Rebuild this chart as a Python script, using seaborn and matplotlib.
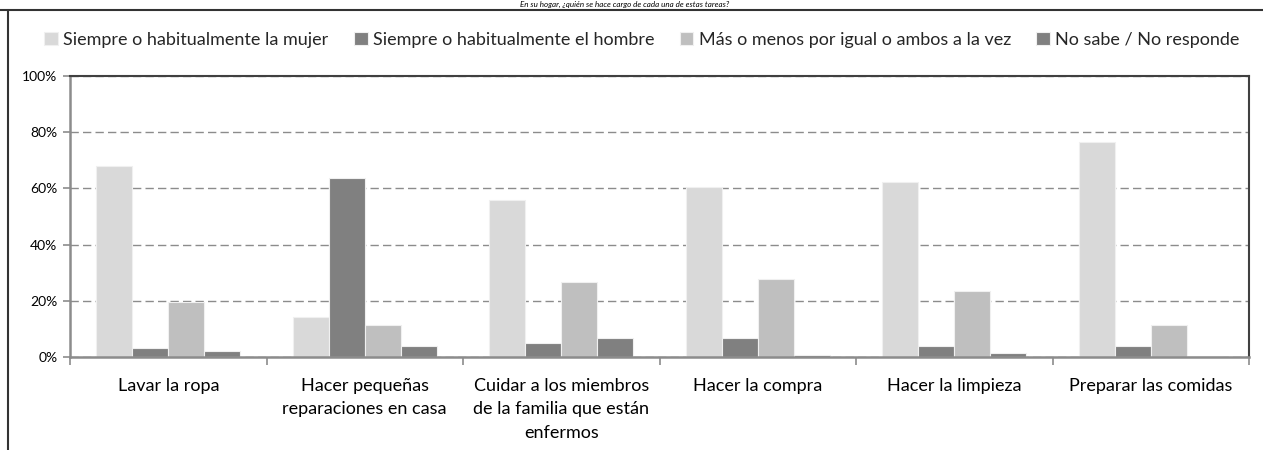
import matplotlib
matplotlib.use("Agg")
import matplotlib.pyplot as plt
from matplotlib.lines import Line2D
from matplotlib.ticker import PercentFormatter, FixedLocator
import seaborn as sns
import pandas as pd

# ---- data ----
tareas = ["Lavar la ropa", "Hacer pequeñas reparaciones en casa",
          "Cuidar a los miembros de la familia que están enfermos",
          "Hacer la compra", "Hacer la limpieza", "Preparar las comidas"]
etiquetas = ["Lavar la ropa", "Hacer pequeñas\nreparaciones en casa",
             "Cuidar a los miembros\nde la familia que están\nenfermos",
             "Hacer la compra", "Hacer la limpieza", "Preparar las comidas"]
series = ["Siempre o habitualmente la mujer", "Siempre o habitualmente el hombre",
          "Más o menos por igual o ambos a la vez", "No sabe / No responde"]
mujer = [68.0, 14.1, 55.8, 60.4, 62.4, 76.4]
hombre = [3.1, 63.7, 4.9, 6.6, 3.8, 3.8]
igual = [19.5, 11.4, 26.7, 27.6, 23.5, 11.3]
nsnc = [2.0, 3.9, 6.8, 0.8, 1.3, 0.4]
colores = ["#d9d9d9", "#808080", "#bfbfbf", "#808080"]
titulo = "En su hogar, ¿quién se hace cargo de cada una de estas tareas?"

rows = []
for s, vals in zip(series, [mujer, hombre, igual, nsnc]):
    for t, v in zip(tareas, vals):
        rows.append({"tarea": t, "respuesta": s, "pct": v})
df = pd.DataFrame(rows)

sns.set_theme(style="white")
plt.rcParams["font.family"] = ["Lato", "DejaVu Sans"]

W, H = 1263, 450
fig = plt.figure(figsize=(W / 100, H / 100), dpi=100)
ax = fig.add_axes([70 / W, 1 - 357 / H, (1249 - 70) / W, (357 - 76) / H])

sns.barplot(data=df, x="tarea", y="pct", hue="respuesta", order=tareas,
            hue_order=series, palette=colores, width=0.733, gap=0,
            edgecolor="#f0f0f0", linewidth=0.8, ax=ax, legend=True)

ax.set_ylim(0, 100)
ax.set_xlim(-0.5, len(tareas) - 0.5)
ax.yaxis.set_major_locator(FixedLocator([0, 20, 40, 60, 80, 100]))
ax.yaxis.set_major_formatter(PercentFormatter(decimals=0))
ax.set_axisbelow(True)
ax.yaxis.grid(True, linestyle=(0, (6, 3)), color="#8c8c8c", linewidth=1.0)
ax.set_xlabel("")
ax.set_ylabel("")

ax.set_xticks(range(len(tareas)))
ax.set_xticklabels(etiquetas, fontsize=13, linespacing=1.58, color="#000000")
ax.tick_params(axis="x", which="major", length=0, pad=15)
ax.set_xticks([i - 0.5 for i in range(len(tareas) + 1)], minor=True)
ax.tick_params(axis="x", which="minor", length=6, width=1.2, color="#8c8c8c",
               direction="out", bottom=True)
ax.tick_params(axis="y", length=5, width=1.2, color="#8c8c8c", direction="out",
               left=True, labelsize=10, pad=4, labelcolor="#000000")

for side in ["left", "bottom"]:
    ax.spines[side].set_color("#8c8c8c")
    ax.spines[side].set_linewidth(1.8)
ax.spines["top"].set_color("#404040")
ax.spines["top"].set_linewidth(1.5)
ax.spines["top"].set_linestyle((0, (3, 1)))
ax.spines["right"].set_color("#404040")
ax.spines["right"].set_linewidth(1.5)

handles, labels = ax.get_legend_handles_labels()
ax.get_legend().remove()
fig.legend(handles, labels, loc="center", bbox_to_anchor=(642 / W, 1 - 40 / H),
           ncol=4, frameon=False, fontsize=13, handlelength=0.75,
           handleheight=0.75, handletextpad=0.3, columnspacing=1.4)

# outer frame
fig.add_artist(Line2D([0, 1], [1 - 9.5 / H] * 2, color="#333333", lw=1.5,
                      transform=fig.transFigure))
fig.add_artist(Line2D([7.5 / W] * 2, [0, 1 - 9.5 / H], color="#333333", lw=1.5,
                      transform=fig.transFigure))
# small title line above the frame
fig.text(625 / W, 1 - 0.5 / H, titulo, ha="center", va="top",
         style="italic", fontsize=5.8, color="#000000")

fig.savefig("out.png", dpi=100)
